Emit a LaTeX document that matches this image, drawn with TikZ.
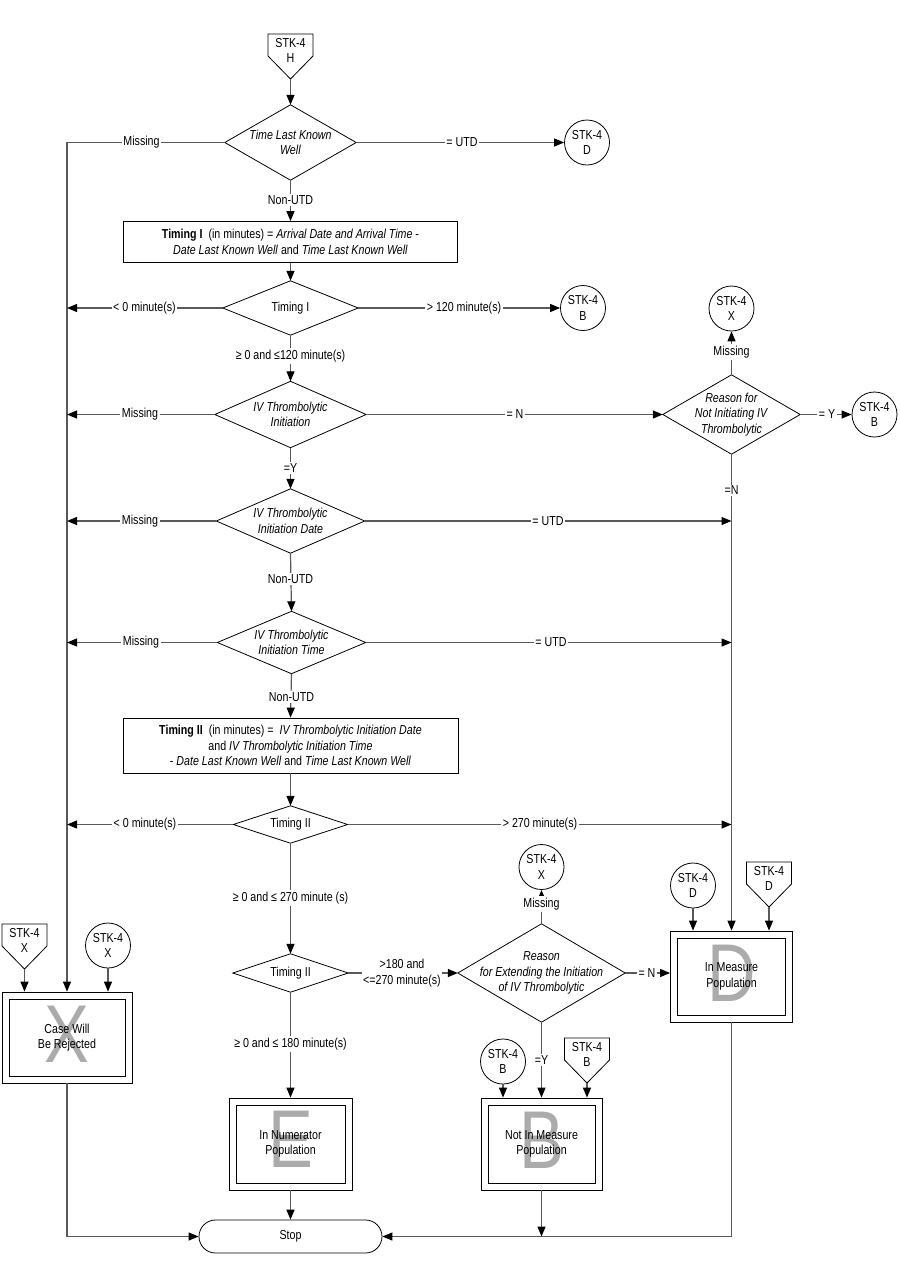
\documentclass[tikz,border=0pt]{standalone}
\usepackage{fontspec}
\setmainfont{Liberation Sans}[FakeStretch=0.82]
\usetikzlibrary{arrows.meta,calc}
\newcommand\offpg[4]{%
  \draw[shp] (#2-22.5,#3) -- (#2+22.5,#3) -- (#2+22.5,#3+22) -- (#2,#3+45) -- (#2-22.5,#3+22) -- cycle;
  \node[txt] (#1) at (#2,#3+16.5) {STK-4\\#4};
  \coordinate (#1tip) at (#2,#3+45);}
\newcommand\diam[1]{\draw[shp] (#1.north) -- (#1.east) -- (#1.south) -- (#1.west) -- cycle;}
\newcommand\inbox[1]{\draw[shp] ([shift={(7.5,-7.5)}]#1.south west) rectangle ([shift={(-7.5,7.5)}]#1.north east);}
\begin{document}
\begin{tikzpicture}[x=1pt,y=-1pt,
  txt/.style={font=\fontsize{13}{15.5}\selectfont, align=center, inner sep=0pt},
  dia/.style={txt},
  lbl/.style={txt, fill=white, inner sep=1.5pt},
  shp/.style={draw=black, line width=0.8pt},
  conn/.style={draw=black!65, line width=1.2pt},
  arr/.style={conn, -{Triangle[length=10pt,width=8pt,color=black]}},
  circ/.style={shp, circle, txt, minimum size=45},
  bigl/.style={font=\fontsize{82}{82}\selectfont, text=black!33, inner sep=0pt, anchor=base},
  dbox/.style={shp, txt}]
\useasboundingbox[fill=white] (0,0) rectangle (900,1286);

% ---------- nodes ----------
\offpg{offH}{290.5}{34}{H}
\node[dia, minimum width=131, minimum height=75] (d1) at (290.5,142.5) {\textit{Time Last Known}\\\textit{Well}};
\diam{d1}
\node[circ] (cD1) at (587,142.5) {STK-4\\D};
\node[dbox, minimum width=334, minimum height=41] (box1) at (290.5,242) {\textbf{Timing I}~ (in minutes) = \textit{Arrival Date and Arrival Time} -\\\textit{Date Last Known Well} and \textit{Time Last Known Well}};
\node[dia, minimum width=135, minimum height=54] (d2) at (290.5,308) {Timing I};
\diam{d2}
\node[circ] (cB1) at (583,308) {STK-4\\B};
\node[dia, minimum width=151, minimum height=66] (d3) at (290.5,414.5) {\textit{IV Thrombolytic}\\\textit{Initiation}};
\diam{d3}
\node[circ] (cX1) at (731.5,308.5) {STK-4\\X};
\node[dia, minimum width=137, minimum height=79] (rs1) at (731.5,414.5) {\textit{Reason for}\\\textit{Not Initiating IV}\\\textit{Thrombolytic}};
\diam{rs1}
\node[circ] (cB2) at (874.5,414.5) {STK-4\\B};
\node[dia, minimum width=148, minimum height=64] (d4) at (290.5,521) {\textit{IV Thrombolytic}\\\textit{Initiation Date}};
\diam{d4}
\node[dia, minimum width=148, minimum height=62] (d5) at (291.5,642.5) {\textit{IV Thrombolytic}\\\textit{Initiation Time}};
\diam{d5}
\node[dbox, minimum width=335, minimum height=55] (box2) at (290.5,745.5) {\textbf{Timing II}~ (in minutes) = ~\textit{IV Thrombolytic Initiation Date}\\and \textit{IV Thrombolytic Initiation Time}\\- \textit{Date Last Known Well} and \textit{Time Last Known Well}};
\node[dia, minimum width=114, minimum height=37] (d6) at (290.5,824.5) {Timing II};
\diam{d6}
\node[dia, minimum width=115, minimum height=38] (d7) at (290.5,973) {Timing II};
\diam{d7}
\node[dia, minimum width=167, minimum height=98] (rs2) at (541.5,973) {\textit{Reason}\\\textit{for Extending the Initiation}\\\textit{of IV Thrombolytic}};
\diam{rs2}
\node[circ] (cX2) at (541.5,867) {STK-4\\X};

% result boxes
\node[dbox, minimum width=122, minimum height=91] (boxIM) at (731.5,976.5) {};
\inbox{boxIM}
\node[bigl] (gD) at (731.5,1001.5) {D};
\node[txt] (tIM) at (731.5,976.5) {In Measure\\Population};
\node[circ] (cD2) at (693,885.5) {STK-4\\D};
\offpg{offD}{769}{862}{D}

\node[dbox, minimum width=130, minimum height=91] (boxCR) at (67,1037.5) {};
\inbox{boxCR}
\node[bigl] (gX) at (67,1062) {X};
\node[txt] (tCR) at (67,1037.5) {Case Will\\Be Rejected};
\offpg{offX}{24.5}{924}{X}
\node[circ] (cX3) at (108,945.5) {STK-4\\X};

\node[dbox, minimum width=123, minimum height=92] (boxNum) at (290.5,1144) {};
\inbox{boxNum}
\node[bigl] (gE) at (290.5,1167.5) {E};
\node[txt] (tNum) at (290.5,1144) {In Numerator\\Population};

\node[dbox, minimum width=121, minimum height=92] (boxNIM) at (541.5,1144) {};
\inbox{boxNIM}
\node[bigl] (gB) at (541.5,1168) {B};
\node[txt] (tNIM) at (541.5,1144) {Not In Measure\\Population};
\node[circ] (cB3) at (503,1061.5) {STK-4\\B};
\offpg{offB}{587}{1038}{B}

\node[shp, txt, minimum width=183, minimum height=33, rounded corners=16.5pt] (stop) at (290.5,1236.5) {Stop};

% ---------- connectors ----------
\draw[arr] (offHtip) -- (d1.north);
\draw[arr] (d1.west) -| (boxCR.north);
\draw[arr] (d1.east) -- (cD1.west);
\draw[arr] (d1.south) -- (box1.north);
\draw[arr] (box1.south) -- (d2.north);
\draw[arr] (d2.west) -- (d2.west -| boxCR.north);
\draw[arr] (d2.east) -- (cB1.west);
\draw[arr] (d2.south) -- (d3.north);
\draw[arr] (d3.west) -- (d3.west -| boxCR.north);
\draw[arr] (d3.east) -- (rs1.west);
\draw[arr] (rs1.north) -- (cX1.south);
\draw[arr] (rs1.east) -- (cB2.west);
\draw[arr] (rs1.south) -- (boxIM.north);
\draw[arr] (d3.south) -- (d4.north);
\draw[arr] (d4.west) -- (d4.west -| boxCR.north);
\draw[arr] (d4.east) -- (d4.east -| boxIM.north);
\draw[arr] (d4.south) -- (d5.north);
\draw[arr] (d5.west) -- (d5.west -| boxCR.north);
\draw[arr] (d5.east) -- (d5.east -| boxIM.north);
\draw[arr] (d5.south) -- (box2.north);
\draw[arr] (box2.south) -- (d6.north);
\draw[arr] (d6.west) -- (d6.west -| boxCR.north);
\draw[arr] (d6.east) -- (d6.east -| boxIM.north);
\draw[arr] (d6.south) -- (d7.north);
\draw[arr] (d7.east) -- (rs2.west);
\draw[arr] (d7.south) -- (boxNum.north);
\draw[arr] (rs2.north) -- (cX2.south);
\draw[arr] (rs2.east) -- (rs2.east -| boxIM.west);
\draw[arr] (rs2.south) -- (boxNIM.north);
\draw[arr] (cD2.south) -- (cD2.south |- boxIM.north);
\draw[arr] (offDtip) -- (offDtip |- boxIM.north);
\draw[arr] (offXtip) -- (offXtip |- boxCR.north);
\draw[arr] (cX3.south) -- (cX3.south |- boxCR.north);
\draw[arr] (cB3.south) -- (cB3.south |- boxNIM.north);
\draw[arr] (offBtip) -- (offBtip |- boxNIM.north);
\draw[arr] (boxCR.south) |- (stop.west);
\draw[arr] (boxNum.south) -- (stop.north);
\draw[arr] (boxIM.south) |- (stop.east);
\draw[arr] (boxNIM.south) -- (boxNIM.south |- stop.east);

% ---------- labels ----------
\node[lbl] (l1) at (141.5,142.5) {Missing};
\node[lbl] (l2) at (462,142.5) {= UTD};
\node[lbl] (l3) at (290.5,200) {Non-UTD};
\node[lbl] (l4) at (144.5,308) {< 0 minute(s)};
\node[lbl] (l5) at (464,308) {> 120 minute(s)};
\node[lbl] (l6) at (290.5,356) {≥ 0 and ≤120 minute(s)};
\node[lbl] (l7) at (140,414.5) {Missing};
\node[lbl] (l8) at (515,414.5) {= N};
\node[lbl] (l9) at (731.5,352) {Missing};
\node[lbl] (l10) at (827,414.5) {= Y};
\node[lbl] (l11) at (731.5,490.5) {=N};
\node[lbl] (l12) at (290.5,468) {=Y};
\node[lbl] (l13) at (140,521) {Missing};
\node[lbl] (l14) at (548,521) {= UTD};
\node[lbl] (l15) at (290.5,579) {Non-UTD};
\node[lbl] (l16) at (141,642.5) {Missing};
\node[lbl] (l17) at (551,642.5) {= UTD};
\node[lbl] (l18) at (291.5,697) {Non-UTD};
\node[lbl] (l19) at (145,824.5) {< 0 minute(s)};
\node[lbl] (l20) at (540,824.5) {> 270 minute(s)};
\node[lbl] (l21) at (290.5,898) {≥ 0 and ≤ 270 minute (s)};
\node[lbl] (l22) at (402,973) {>180 and\\<=270 minute(s)};
\node[lbl] (l23) at (541.5,904) {Missing};
\node[lbl] (l24) at (647,973) {= N};
\node[lbl] (l25) at (541.5,1060) {=Y};
\node[lbl] (l26) at (290.5,1044) {≥ 0 and ≤ 180 minute(s)};
\end{tikzpicture}
\end{document}
